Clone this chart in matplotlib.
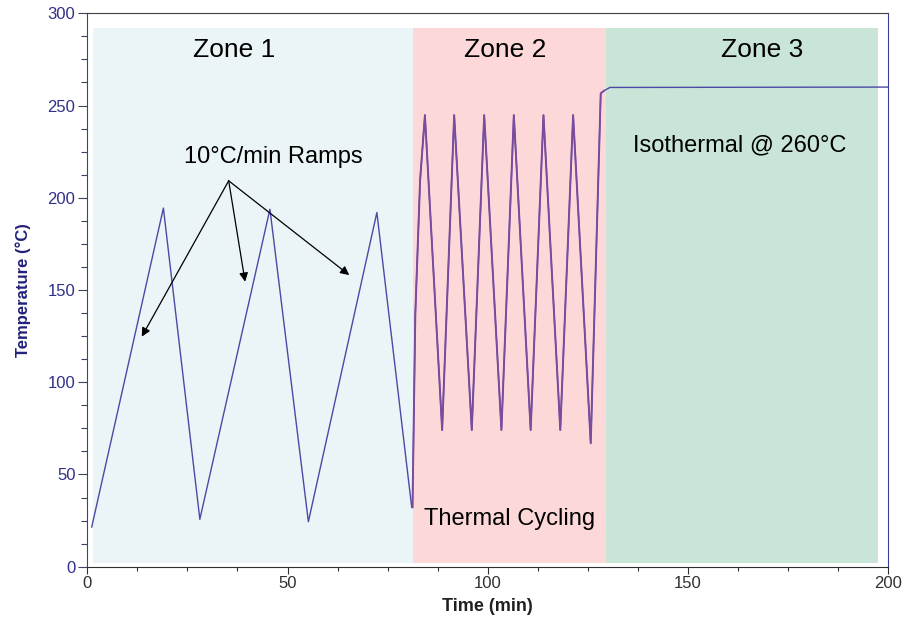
import matplotlib.pyplot as plt
from matplotlib.ticker import MultipleLocator
import numpy as np

# temperature trace
time = [1.1, 19.0, 28.1, 45.6, 55.2, 72.3, 81.0,
        81.2, 81.9, 83.1, 84.3, 88.6, 91.6, 96.0, 99.1, 103.4, 106.5,
        110.7, 113.9, 118.1, 121.3, 125.7, 128.2, 129.0, 130.5, 200.0]
temp = [21.5, 194.4, 25.7, 193.8, 24.4, 192.0, 32.2,
        32.2, 137.0, 209.6, 244.8, 74.1, 244.8, 74.1, 244.8, 74.1, 244.8,
        74.1, 244.8, 74.1, 244.8, 66.9, 256.6, 258.0, 259.8, 260.0]

# shaded zones
zone_names = ["Zone 1", "Zone 2", "Zone 3"]
zone_start = [1.5, 81.4, 129.4]
zone_end = [81.4, 129.4, 197.4]
zone_colors = ["#ebf4f6", "#fdd8d8", "#c9e5d8"]
zone_label_x = [36.6, 104.3, 168.5]

# arrows for the ramp note
ramp_origin = (35.3, 209.2)
ramp_heads = [(13.6, 124.7), (39.4, 154.5), (65.4, 158.1)]

fig = plt.figure(figsize=(9.03, 6.21), dpi=100)
ax = fig.add_axes([87.3 / 903, 54.3 / 621, 801 / 903, 553.4 / 621])

for x0, x1, c in zip(zone_start, zone_end, zone_colors):
    ax.axvspan(x0, x1, ymin=2.2 / 300, ymax=292.1 / 300, color=c, lw=0, zorder=0)

t = np.array(time)
y = np.array(temp)
ax.plot(t, y, color="#4a4aa6", lw=1.0, zorder=3)
# trace looks more purple over the pink zone
m = (t >= 81.2) & (t <= 129.4)
ax.plot(t[m], y[m], color="#7a4c9e", lw=1.4, zorder=4)

for name, xl in zip(zone_names, zone_label_x):
    ax.text(xl, 280, name, ha="center", va="center", fontsize=19, family="Liberation Sans")

ax.text(46.4, 222.0, "10°C/min Ramps", ha="center", va="center", fontsize=17, family="Liberation Sans")
for head in ramp_heads:
    ax.annotate("", xy=head, xytext=ramp_origin,
                arrowprops=dict(arrowstyle="-|>", color="black", lw=0.9,
                                mutation_scale=13, shrinkA=0, shrinkB=0))

ax.text(163.0, 228.6, "Isothermal @ 260°C", ha="center", va="center", fontsize=17, family="Liberation Sans")
ax.text(105.5, 25.7, "Thermal Cycling", ha="center", va="center", fontsize=17, family="Liberation Sans")

ax.set_xlim(0, 200)
ax.set_ylim(0, 300)
ax.xaxis.set_major_locator(MultipleLocator(50))
ax.xaxis.set_minor_locator(MultipleLocator(12.5))
ax.yaxis.set_major_locator(MultipleLocator(50))
ax.yaxis.set_minor_locator(MultipleLocator(12.5))

ax.spines["left"].set_color("#3a3aa0")
ax.spines["right"].set_color("#3a3aa0")
ax.spines["top"].set_color("#404040")
ax.spines["bottom"].set_color("#303030")

ax.tick_params(axis="y", which="major", length=6.5, width=0.8, color="#404060",
               labelcolor="#30308a", labelsize=12, pad=2)
ax.tick_params(axis="y", which="minor", length=4.5, width=0.8, color="#404060")
ax.tick_params(axis="x", which="major", length=5, width=0.8, color="#303030",
               labelcolor="#303030", labelsize=12, pad=2)
ax.tick_params(axis="x", which="minor", length=3, width=0.8, color="#303030")
for lab in ax.get_xticklabels() + ax.get_yticklabels():
    lab.set_family("Liberation Sans")

ax.set_xlabel("Time (min)", fontsize=13, fontweight="bold", color="#202020",
              family="Liberation Sans", labelpad=5)
ax.set_ylabel("Temperature (°C)", fontsize=12, fontweight="bold", color="#22227a",
              family="Liberation Sans", labelpad=12)

fig.savefig("out.png", dpi=100)
